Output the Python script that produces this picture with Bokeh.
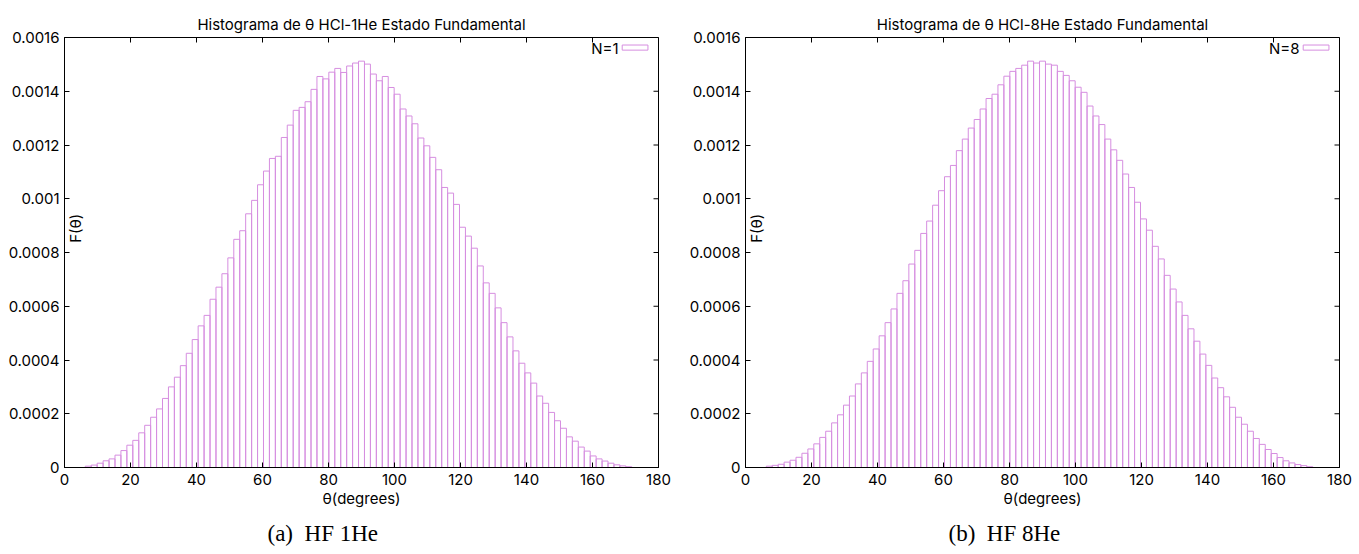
import numpy as np
from bokeh.plotting import figure
from bokeh.models import (ColumnDataSource, FixedTicker, Label,
                          BoxAnnotation, Title, Range1d)
from bokeh.layouts import row
from bokeh.embed import file_html
from bokeh.resources import INLINE

# histogram bin centres (degrees) and bin width
BIN_WIDTH = 1.8
theta_deg = [
    7.2, 9.0, 10.8, 12.6, 14.4, 16.2, 18.0, 19.8, 21.6, 23.4,
    25.2, 27.0, 28.8, 30.6, 32.4, 34.2, 36.0, 37.8, 39.6, 41.4,
    43.2, 45.0, 46.8, 48.6, 50.4, 52.2, 54.0, 55.8, 57.6, 59.4,
    61.2, 63.0, 64.8, 66.6, 68.4, 70.2, 72.0, 73.8, 75.6, 77.4,
    79.2, 81.0, 82.8, 84.6, 86.4, 88.2, 90.0, 91.8, 93.6, 95.4,
    97.2, 99.0, 100.8, 102.6, 104.4, 106.2, 108.0, 109.8, 111.6, 113.4,
    115.2, 117.0, 118.8, 120.6, 122.4, 124.2, 126.0, 127.8, 129.6, 131.4,
    133.2, 135.0, 136.8, 138.6, 140.4, 142.2, 144.0, 145.8, 147.6, 149.4,
    151.2, 153.0, 154.8, 156.6, 158.4, 160.2, 162.0, 163.8, 165.6, 167.4,
    169.2, 171.0,
]

# F(theta), HCl-1He ground state
freq_1he = [
    0.000005, 0.000009, 0.000016, 0.000025, 0.000032, 0.000046, 0.000063, 0.000083, 0.000101, 0.000129,
    0.000157, 0.000187, 0.000218, 0.000257, 0.000300, 0.000336, 0.000379, 0.000425, 0.000476, 0.000527,
    0.000566, 0.000626, 0.000671, 0.000721, 0.000780, 0.000849, 0.000881, 0.000944, 0.000994, 0.001052,
    0.001103, 0.001150, 0.001158, 0.001228, 0.001274, 0.001329, 0.001340, 0.001361, 0.001407, 0.001455,
    0.001446, 0.001471, 0.001485, 0.001470, 0.001494, 0.001505, 0.001512, 0.001501, 0.001464, 0.001439,
    0.001455, 0.001414, 0.001389, 0.001334, 0.001308, 0.001279, 0.001226, 0.001197, 0.001154, 0.001108,
    0.001042, 0.001021, 0.000979, 0.000894, 0.000861, 0.000816, 0.000750, 0.000687, 0.000648, 0.000594,
    0.000539, 0.000486, 0.000434, 0.000388, 0.000352, 0.000314, 0.000266, 0.000239, 0.000205, 0.000174,
    0.000146, 0.000114, 0.000098, 0.000076, 0.000061, 0.000043, 0.000032, 0.000024, 0.000016, 0.000010,
    0.000006, 0.000003,
]

# F(theta), HCl-8He ground state
freq_8he = [
    0.000005, 0.000008, 0.000012, 0.000020, 0.000027, 0.000038, 0.000053, 0.000069, 0.000088, 0.000112,
    0.000135, 0.000166, 0.000196, 0.000232, 0.000266, 0.000311, 0.000352, 0.000395, 0.000441, 0.000490,
    0.000539, 0.000590, 0.000648, 0.000695, 0.000757, 0.000808, 0.000871, 0.000917, 0.000976, 0.001030,
    0.001082, 0.001124, 0.001179, 0.001222, 0.001263, 0.001295, 0.001334, 0.001373, 0.001389, 0.001424,
    0.001456, 0.001474, 0.001485, 0.001497, 0.001512, 0.001505, 0.001512, 0.001501, 0.001497, 0.001474,
    0.001459, 0.001439, 0.001415, 0.001396, 0.001345, 0.001308, 0.001276, 0.001222, 0.001182, 0.001143,
    0.001092, 0.001042, 0.000987, 0.000925, 0.000883, 0.000823, 0.000776, 0.000715, 0.000664, 0.000616,
    0.000566, 0.000516, 0.000470, 0.000422, 0.000380, 0.000333, 0.000297, 0.000263, 0.000224, 0.000187,
    0.000161, 0.000135, 0.000108, 0.000086, 0.000067, 0.000052, 0.000037, 0.000025, 0.000017, 0.000011,
    0.000007, 0.000003,
]

x_ticks = [0, 20, 40, 60, 80, 100, 120, 140, 160, 180]
y_ticks = [0, 0.0002, 0.0004, 0.0006, 0.0008, 0.001, 0.0012, 0.0014, 0.0016]
y_tick_labels = ["0", "0.0002", "0.0004", "0.0006", "0.0008", "0.001", "0.0012", "0.0014", "0.0016"]

X_MAX = 180
Y_MAX = 0.0016

BAR_COLOR = "#d68ee0"
FONT = "Inter"
FONT_SIZE = "15px"


def style_axis(ax, ticks):
    ax.ticker = FixedTicker(ticks=ticks)
    ax.major_tick_in = 5
    ax.major_tick_out = 0
    ax.minor_tick_line_color = None
    ax.axis_line_color = "black"
    ax.major_tick_line_color = "black"
    ax.major_label_text_font = FONT
    ax.major_label_text_color = "black"
    ax.major_label_text_font_size = FONT_SIZE


def make_panel(title, freq, legend_text, caption, width, border_left, border_right, caption_offset):
    p = figure(width=width, height=554,
               x_range=Range1d(0, X_MAX), y_range=Range1d(0, Y_MAX),
               min_border_left=border_left, min_border_right=border_right,
               min_border_top=37, min_border_bottom=86,
               output_backend="svg", toolbar_location=None)
    p.grid.visible = False
    p.outline_line_color = "black"
    p.outline_line_width = 1
    p.background_fill_color = "white"
    p.border_fill_color = "white"

    p.title.text = title
    p.title.align = "center"
    p.title.text_font = FONT
    p.title.text_font_size = FONT_SIZE
    p.title.text_font_style = "normal"
    p.title.text_color = "black"
    p.title.standoff = 8

    src = ColumnDataSource(dict(
        left=[t - BIN_WIDTH / 2 for t in theta_deg],
        right=[t + BIN_WIDTH / 2 for t in theta_deg],
        top=freq,
        bottom=[0.0] * len(freq),
    ))
    p.quad(left="left", right="right", top="top", bottom="bottom", source=src,
           fill_color=None, line_color=BAR_COLOR, line_width=1)

    xa = p.xaxis[0]
    style_axis(xa, x_ticks)
    xa.major_label_standoff = 6
    xa.axis_label = "θ(degrees)"
    xa.axis_label_text_font = FONT
    xa.axis_label_text_font_size = FONT_SIZE
    xa.axis_label_text_font_style = "normal"
    xa.axis_label_text_color = "black"
    xa.axis_label_standoff = 1

    ya = p.yaxis[0]
    style_axis(ya, y_ticks)
    ya.major_label_overrides = {t: s for t, s in zip(y_ticks, y_tick_labels)}
    ya.major_label_standoff = 5

    # mirrored inward ticks on the top and right edges (outer half clipped by the frame)
    p.scatter(x=x_ticks, y=[Y_MAX] * len(x_ticks), marker="dash", size=10,
              angle=np.pi / 2, line_color="black", line_width=1)
    p.scatter(x=[X_MAX] * len(y_ticks), y=y_ticks, marker="dash", size=10,
              line_color="black", line_width=1)

    # y label sits just inside the frame
    p.add_layout(Label(x=0, y=0.00089, x_offset=11, text="F(θ)", angle=np.pi / 2,
                       text_align="center", text_baseline="middle",
                       text_font=FONT, text_font_size=FONT_SIZE, text_color="black"))

    # key: text to the left of an empty box sample
    p.add_layout(Label(x=X_MAX, y=Y_MAX, x_offset=-40, y_offset=-11, text=legend_text,
                       text_align="right", text_baseline="middle",
                       text_font=FONT, text_font_size=FONT_SIZE, text_color="black"))
    p.add_layout(BoxAnnotation(left=169.0, right=176.8, bottom=0.001553, top=0.001572,
                               fill_alpha=0, line_color=BAR_COLOR, line_width=1,
                               line_alpha=1))

    # sub-figure caption under the axis
    p.add_layout(Title(text=caption, align="left", offset=caption_offset,
                       text_font="Liberation Serif", text_font_size="23px",
                       text_line_height=1.0, text_font_style="normal",
                       text_color="black", standoff=17),
                 "below")
    return p


p1 = make_panel("Histograma de θ HCl-1He Estado Fundamental", freq_1he, "N=1",
                "(a)\u2002HF 1He", 680, 64, 22, 203)
p2 = make_panel("Histograma de θ HCl-8He Estado Fundamental", freq_8he, "N=8",
                "(b)\u2002HF 8He", 679, 65, 20, 203)

layout = row(p1, p2)
open("out.html", "w").write(file_html(layout, INLINE))
